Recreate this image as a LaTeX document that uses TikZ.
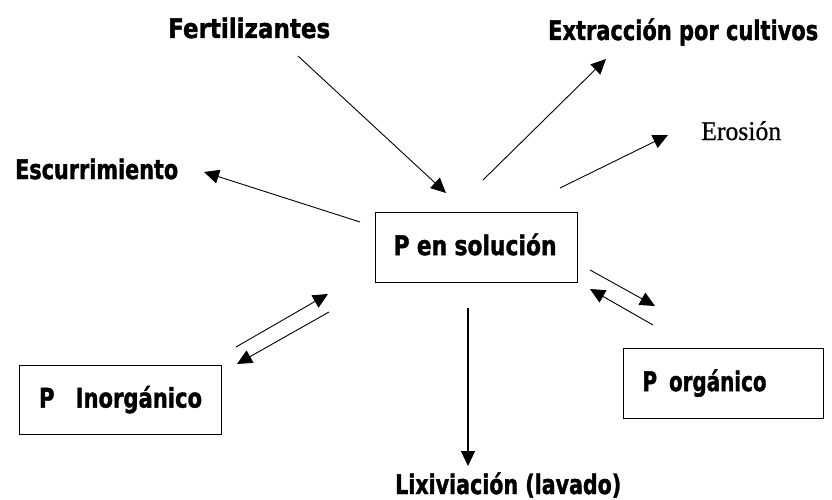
\documentclass[tikz,border=0pt]{standalone}
\usepackage{fontspec}
\usepackage{graphicx}
\usetikzlibrary{arrows.meta}
\newfontfamily\lblfont{DejaVu Sans}[BoldFeatures={FakeBold=1.6}]
\newfontfamily\serfont{Liberation Serif}[FakeBold=0.6]
\newcommand\fitw[2]{\resizebox{#1}{\height}{#2}}
\begin{document}
\begin{tikzpicture}[x=1pt,y=-1pt,
  lbl/.style={anchor=base west, inner sep=0pt, font=\lblfont\bfseries\fontsize{27}{32}\selectfont},
  ser/.style={anchor=base west, inner sep=0pt, font=\serfont\fontsize{27}{32}\selectfont},
  pbox/.style={draw, line width=1.1pt, anchor=north west, minimum height=70pt,
    align=left, inner ysep=0pt, text height=22pt, text depth=7pt,
    font=\lblfont\bfseries\fontsize{27}{32}\selectfont},
  flow/.style={line width=0.9pt, -{Triangle[length=15pt,width=14pt]}}]
\useasboundingbox (0,0) rectangle (832,500);
\fill[white] (0,0) rectangle (832,500);

% boxes
\node[pbox, inner xsep=18pt, text width=166pt] (sol) at (375,212) {\fitw{163pt}{P en solución}};
\node[pbox, inner xsep=19.5pt, text width=163pt, minimum height=69pt] (inorg) at (19,365) {\fitw{163pt}{P\hspace{1em}Inorgánico}};
\node[pbox, inner xsep=19pt, text width=162pt] (org) at (623,348) {\fitw{124pt}{P\hspace{0.6em}orgánico}};

% labels
\node[lbl] (fert) at (168,38) {\fitw{162pt}{Fertilizantes}};
\node[lbl] (extr) at (548,40) {\fitw{270pt}{Extracción por cultivos}};
\node[ser] (eros) at (701,140) {\fitw{80pt}{Erosión}};
\node[lbl] (escu) at (15,179) {\fitw{163pt}{Escurrimiento}};
\node[lbl] (lixi) at (395,494) {\fitw{226pt}{Lixiviación (lavado)}};

% connector end points
\coordinate (f1) at (298,56);   \coordinate (f2) at (446,193);
\coordinate (e1) at (483,180);  \coordinate (e2) at (606,59);
\coordinate (r1) at (560,188);  \coordinate (r2) at (668,135);
\coordinate (s1) at (360,222);  \coordinate (s2) at (204,172);
\coordinate (i1) at (236,347);  \coordinate (i2) at (328,294);
\coordinate (i3) at (329,312);  \coordinate (i4) at (237,364);
\coordinate (o1) at (590,270);  \coordinate (o2) at (655,306);
\coordinate (o3) at (653,325);  \coordinate (o4) at (590,289);
\coordinate (l1) at (468,308);  \coordinate (l2) at (468,466);

\draw[flow] (f1) -- (f2);
\draw[flow] (e1) -- (e2);
\draw[flow] (r1) -- (r2);
\draw[flow] (s1) -- (s2);
\draw[flow] (i1) -- (i2);
\draw[flow] (i3) -- (i4);
\draw[flow] (o1) -- (o2);
\draw[flow] (o3) -- (o4);
\draw[flow, line width=1.1pt] (l1) -- (l2);
\end{tikzpicture}
\end{document}
